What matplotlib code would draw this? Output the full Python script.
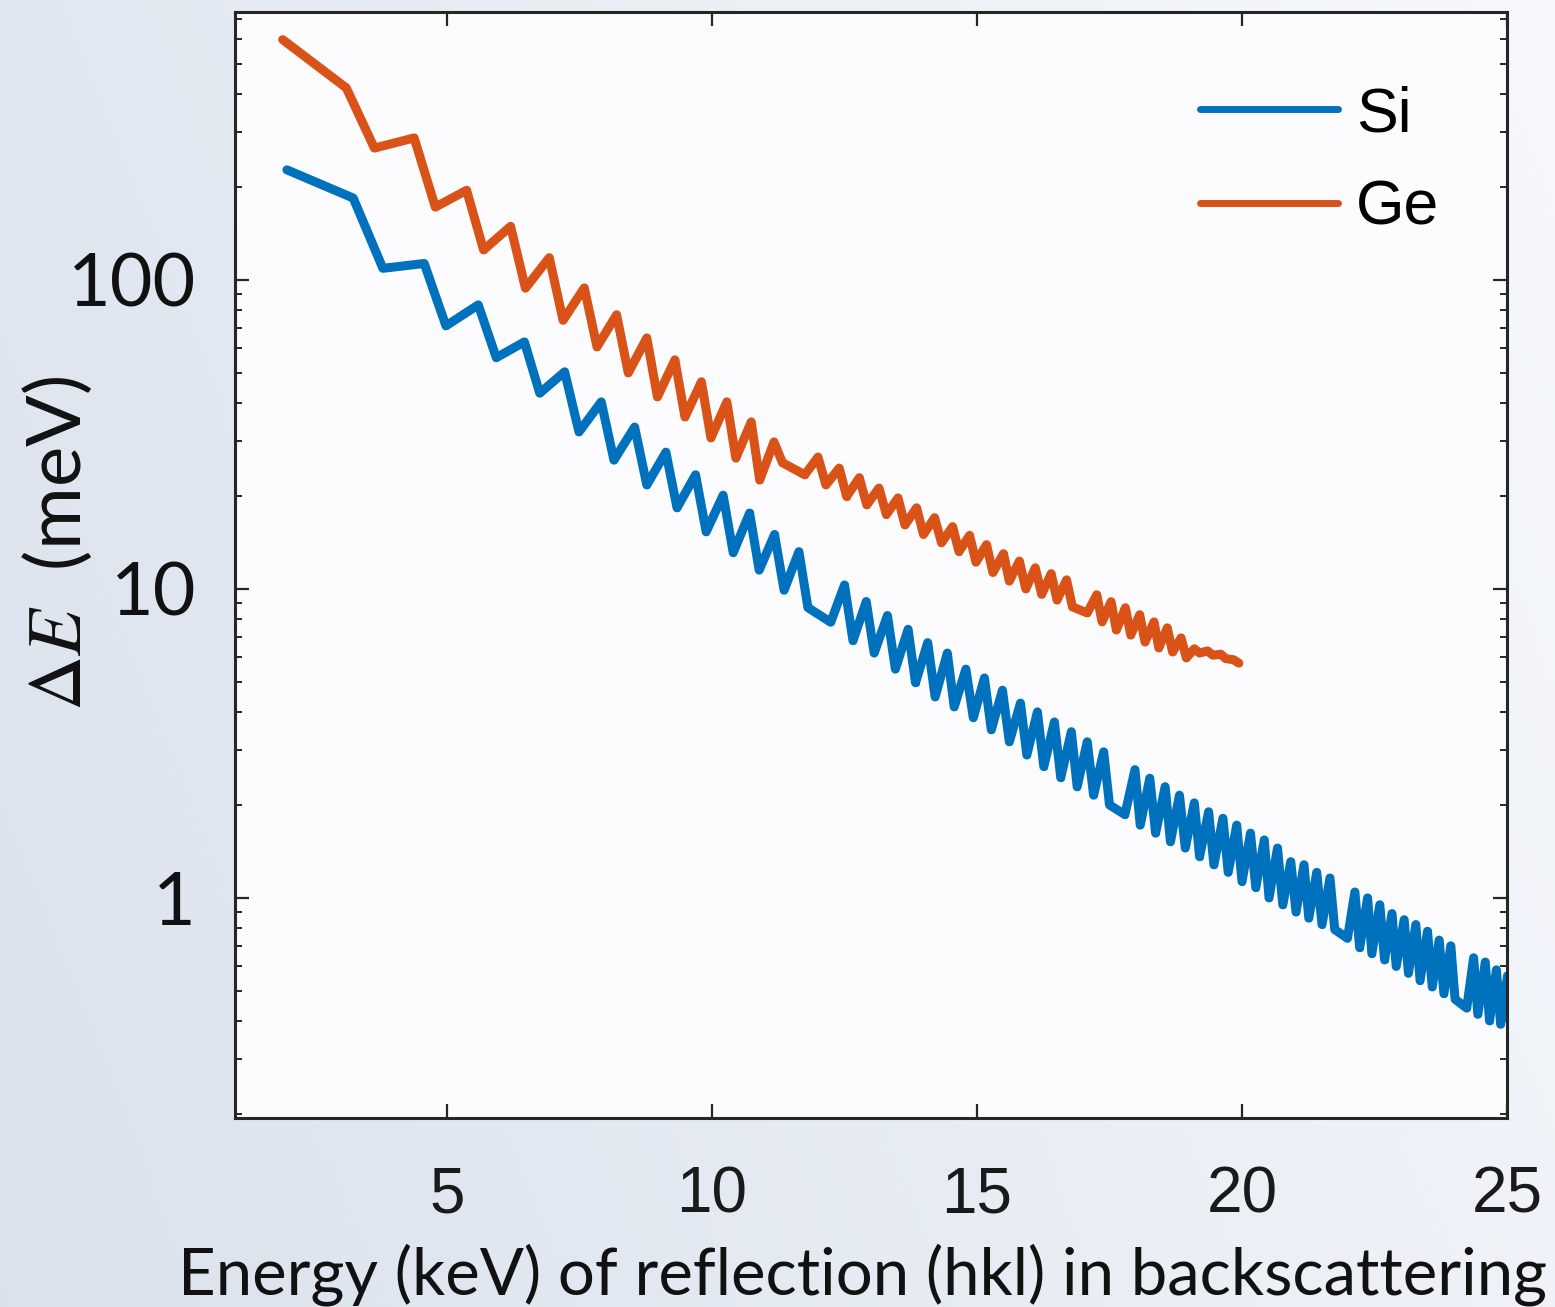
import numpy as np
import matplotlib
matplotlib.use("Agg")
import matplotlib.pyplot as plt
from matplotlib.ticker import FixedLocator, NullLocator, LogLocator, FixedFormatter

plt.rcParams['mathtext.fontset'] = 'stix'

# ---------------- data ----------------
si_energy = [1.98, 3.23, 3.79, 4.57, 4.98, 5.59, 5.93, 6.46, 6.75, 7.22,
             7.49, 7.91, 8.15, 8.54, 8.77, 9.13, 9.34, 9.69, 9.89, 10.21,
             10.40, 10.71, 10.89, 11.18, 11.36, 11.64, 11.81, 12.24, 12.50, 12.66,
             12.91, 13.06, 13.31, 13.46, 13.70, 13.84, 14.07, 14.21, 14.44, 14.57,
             14.79, 14.93, 15.14, 15.27, 15.48, 15.61, 15.82, 15.94, 16.14, 16.26,
             16.46, 16.58, 16.78, 16.89, 17.08, 17.20, 17.39, 17.50, 17.79, 17.98,
             18.08, 18.26, 18.37, 18.55, 18.65, 18.82, 18.93, 19.10, 19.20, 19.37,
             19.47, 19.64, 19.74, 19.90, 20.00, 20.16, 20.26, 20.42, 20.51, 20.67,
             20.77, 20.92, 21.02, 21.17, 21.26, 21.41, 21.51, 21.66, 21.75, 21.99,
             22.13, 22.22, 22.37, 22.45, 22.60, 22.69, 22.83, 22.91, 23.06, 23.14,
             23.28, 23.36, 23.50, 23.59, 23.72, 23.81, 23.94, 24.02, 24.24, 24.37,
             24.45, 24.59, 24.67, 24.80, 24.88, 25.01]
si_dE = [227, 184, 109, 113, 71, 83, 56, 63, 43, 50.4,
         32.2, 40.3, 26.1, 33.4, 21.7, 27.7, 18.3, 23.4, 15.3, 20.1,
         13.1, 17.6, 11.5, 15.0, 9.9, 13.2, 8.7, 7.8, 10.3, 6.8,
         9.1, 6.2, 8.2, 5.5, 7.4, 4.97, 6.7, 4.47, 6.2, 4.15,
         5.5, 3.83, 5.15, 3.5, 4.7, 3.2, 4.27, 2.9, 4.0, 2.66,
         3.71, 2.45, 3.45, 2.29, 3.2, 2.15, 2.97, 2.0, 1.86, 2.6,
         1.72, 2.44, 1.62, 2.29, 1.52, 2.15, 1.45, 2.03, 1.36, 1.90,
         1.28, 1.81, 1.21, 1.72, 1.13, 1.62, 1.08, 1.54, 1.0, 1.45,
         0.95, 1.31, 0.90, 1.28, 0.86, 1.21, 0.82, 1.16, 0.79, 0.74,
         1.045, 0.69, 1.0, 0.66, 0.95, 0.63, 0.89, 0.60, 0.85, 0.57,
         0.82, 0.54, 0.78, 0.515, 0.73, 0.49, 0.70, 0.47, 0.44, 0.64,
         0.42, 0.62, 0.40, 0.585, 0.39, 0.56]

ge_energy = [1.90, 3.10, 3.63, 4.38, 4.78, 5.37, 5.69, 6.20, 6.48, 6.93,
             7.19, 7.59, 7.83, 8.20, 8.42, 8.77, 8.97, 9.30, 9.49, 9.80,
             9.98, 10.28, 10.45, 10.74, 10.90, 11.17, 11.33, 11.75, 12.00, 12.15,
             12.40, 12.54, 12.78, 12.92, 13.15, 13.29, 13.51, 13.64, 13.86, 13.99,
             14.20, 14.33, 14.54, 14.66, 14.86, 14.98, 15.18, 15.30, 15.50, 15.61,
             15.80, 15.92, 16.10, 16.22, 16.40, 16.51, 16.69, 16.80, 17.08, 17.26,
             17.36, 17.53, 17.63, 17.80, 17.90, 18.07, 18.17, 18.34, 18.43, 18.59,
             18.69, 18.85, 18.95, 19.10, 19.20, 19.35, 19.45, 19.60, 19.69, 19.84,
             19.94]
ge_dE = [599, 418, 267, 288, 172, 195, 125, 149, 94, 118,
         74, 94.2, 60.7, 77.1, 50.0, 64.9, 41.8, 55.1, 36.0, 46.8,
         30.8, 40.3, 26.5, 34.7, 22.5, 29.9, 25.6, 23.4, 26.7, 21.7,
         24.6, 19.9, 22.9, 18.7, 21.2, 17.4, 19.7, 16.1, 18.3, 15.0,
         17.0, 14.1, 15.9, 13.2, 14.9, 12.2, 13.9, 11.3, 13.0, 10.6,
         12.3, 10.0, 11.7, 9.6, 11.2, 9.2, 10.7, 8.75, 8.36, 9.57,
         7.82, 9.09, 7.36, 8.69, 7.09, 8.25, 6.73, 7.82, 6.44, 7.48,
         6.25, 6.94, 5.98, 6.4, 6.2, 6.3, 6.1, 6.15, 5.95, 5.9,
         5.75]

series_labels = ["Si", "Ge"]
x_ticks = [5, 10, 15, 20, 25]
y_ticks = [1, 10, 100]
y_ticklabels = ["1", "10", "100"]
x_label = "Energy (keV) of reflection (hkl) in backscattering"
y_label = r"$\Delta E$  (meV)"

# ---------------- figure ----------------
W, H = 1555, 1307
fig = plt.figure(figsize=(W / 100, H / 100), dpi=100)

# soft bluish background gradient
bg = fig.add_axes([0, 0, 1, 1], zorder=-10)
gx = np.linspace(0, 1, 200)[None, :]
gy = np.linspace(0, 1, 200)[:, None]
t = np.clip(0.75 * gx + 0.25 * (1 - gy), 0, 1)  # lighter to the right/top
c0 = np.array([0.855, 0.886, 0.929])
c1 = np.array([0.965, 0.972, 0.988])
img = c0[None, None, :] * (1 - t[..., None]) + c1[None, None, :] * t[..., None]
bg.imshow(img, aspect='auto', extent=[0, 1, 0, 1], origin='upper')
bg.set_axis_off()

left, right, top, bottom = 235, 1507, 12, 1118
ax = fig.add_axes([left / W, 1 - bottom / H, (right - left) / W, (bottom - top) / H])
ax.set_facecolor('#fcfcfe')

si_col = '#0072BD'
ge_col = '#D95319'
ax.plot(si_energy, si_dE, color=si_col, lw=6.5, solid_joinstyle='round',
        solid_capstyle='round', marker='.', ms=8, label=series_labels[0])
ax.plot(ge_energy, ge_dE, color=ge_col, lw=6.5, solid_joinstyle='round',
        solid_capstyle='round', marker='.', ms=8, label=series_labels[1])

ax.set_yscale('log')
ax.set_xlim(1, 25)
ax.set_ylim(0.194, 736)

ax.xaxis.set_major_locator(FixedLocator(x_ticks))
ax.xaxis.set_minor_locator(NullLocator())
ax.yaxis.set_major_locator(FixedLocator(y_ticks))
ax.yaxis.set_major_formatter(FixedFormatter(y_ticklabels))
ax.yaxis.set_minor_locator(LogLocator(base=10, subs=np.arange(2, 10)))
ax.yaxis.set_minor_formatter(plt.NullFormatter())

for sp in ax.spines.values():
    sp.set_color('#262626')
    sp.set_linewidth(2.2)

ax.tick_params(which='both', direction='in', top=True, right=True, color='#262626')
ax.tick_params(which='major', length=10, width=1.6)
ax.tick_params(which='minor', length=5, width=1.4)
ax.tick_params(axis='x', which='major', pad=34, labelsize=46, labelcolor='#1a1a1a',
               labelfontfamily='Liberation Sans')
ax.tick_params(axis='y', which='major', pad=28, labelsize=53, labelcolor='#111111',
               labelfontfamily='Lato')

# axis labels
fig.text(862 / W, 1 - 1275 / H, x_label, family='Lato', fontsize=47,
         ha='center', va='center', color='#111111')
fig.text(57 / W, 1 - 543 / H, y_label, family='Lato', fontsize=55,
         ha='center', va='center', rotation=90, color='#111111')

leg = ax.legend(loc='upper left', bbox_to_anchor=(1200 / W, 1 - 85 / H),
                bbox_transform=fig.transFigure, frameon=False,
                prop={'family': 'Liberation Sans', 'size': 45},
                handlelength=2.2, handletextpad=0.3, labelspacing=0.55,
                borderpad=0, borderaxespad=0)
for ln in leg.get_lines():
    ln.set_linewidth(5)
    ln.set_marker('')

fig.savefig('out.png', dpi=100)
